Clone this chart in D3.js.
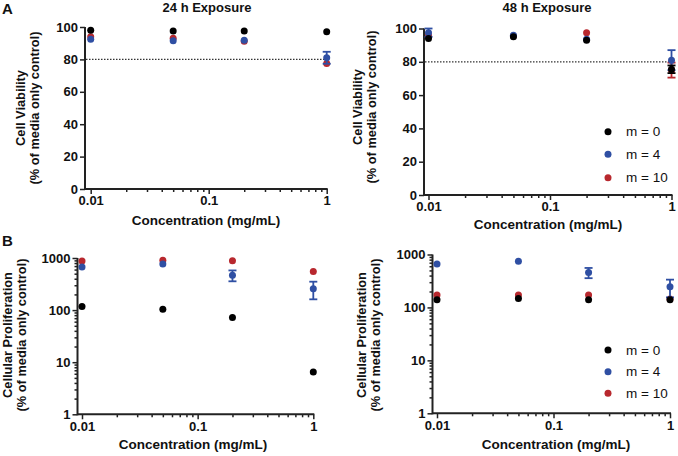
<!DOCTYPE html>
<html><head><meta charset="utf-8">
<script src="https://cdn.jsdelivr.net/npm/d3@7"></script>
<style>
body{margin:0;background:#fff;}
svg text{font-family:Arial,"Liberation Sans",sans-serif;}
</style></head>
<body><svg id="c" width="678" height="456"></svg>
<script>
// ---- data ----
const concentrations = [0.01, 0.05, 0.2, 1];
const seriesNames = ["m = 0", "m = 4", "m = 10"];
const seriesColors = ["#000000", "#2f4fa3", "#b8282e"];

const viab24_m0 = [98, 97.5, 97.5, 97];
const viab24_m4 = [92.5, 91.5, 91.8, 81];
const viab24_m10 = [94, 93, 91.2, 77.5];
const viab24_m0_err = [0.3, 0.3, 0.3, 0.3];
const viab24_m4_err = [0.5, 0.5, 0.5, 3.7];
const viab24_m10_err = [0.5, 0.5, 0.5, 0.5];

const viab48_m0 = [94, 95, 93, 75.5];
const viab48_m4 = [97.5, 96, 93.5, 81];
const viab48_m10 = [96, 95.5, 97.5, 75];
const viab48_m0_err = [0.5, 0.5, 0.5, 2.3];
const viab48_m4_err = [2.5, 0.5, 0.5, 6];
const viab48_m10_err = [1, 0.5, 0.5, 4.5];

const prolif24_m0 = [117, 104, 72, 6.5];
const prolif24_m4 = [674, 767, 467, 256];
const prolif24_m10 = [877, 903, 890, 548];
const prolif24_m0_err = [3, 3, 2, 0.2];
const prolif24_m4_err = [40, 40, 110, 95];
const prolif24_m10_err = [20, 20, 20, 20];

const prolif48_m0 = [140, 148, 140, 140];
const prolif48_m4 = [658, 748, 457, 245];
const prolif48_m10 = [171, 171, 171, 145];
const prolif48_m0_err = [4, 4, 4, 4];
const prolif48_m4_err = [30, 30, 100, 90];
const prolif48_m10_err = [5, 5, 5, 5];

const xTickValues = [0.01, 0.1, 1];
const xTickLabels = ["0.01", "0.1", "1"];
const viabTicks = [0, 20, 40, 60, 80, 100];
const prolifTicks = [1, 10, 100, 1000];
const thresholdLine = 80;

const xTitle = "Concentration (mg/mL)";
const viabTitle = ["Cell Viability", "(% of media only control)"];
const prolifTitle = ["Cellular Proliferation", "(% of media only control)"];

// ---- layout ----
const svg = d3.select("#c");
const panels = [
  {type:"viab", vals:[viab24_m0, viab24_m4, viab24_m10], errs:[viab24_m0_err, viab24_m4_err, viab24_m10_err],
   axisX:85, xr:[90.7, 326.7], yr:[189, 27], title:"24 h Exposure", titleX:207, titleY:12,
   xtY:225, xtX:206, ytX:[21, 35], ytY:108, legend:false, label:"A"},
  {type:"viab", vals:[viab48_m0, viab48_m4, viab48_m10], errs:[viab48_m0_err, viab48_m4_err, viab48_m10_err],
   axisX:424, xr:[428.5, 671.5], yr:[195, 28.5], title:"48 h Exposure", titleX:547, titleY:12,
   xtY:228.5, xtX:548, ytX:[358, 372], ytY:107, legend:true, legY:[131.7,154.3,177.7]},
  {type:"prolif", vals:[prolif24_m0, prolif24_m4, prolif24_m10], errs:[prolif24_m0_err, prolif24_m4_err, prolif24_m10_err],
   axisX:77.5, xr:[82, 313.3], yr:[414.3, 258], title:null,
   xtY:449, xtX:193, ytX:[8, 22], ytY:335, legend:false, label:"B"},
  {type:"prolif", vals:[prolif48_m0, prolif48_m4, prolif48_m10], errs:[prolif48_m0_err, prolif48_m4_err, prolif48_m10_err],
   axisX:432.5, xr:[437, 670], yr:[413.3, 254.5], title:null,
   xtY:449, xtX:556, ytX:[362, 376], ytY:335, legend:true, legY:[350,371.7,393.3]}
];

const minorX = [];
[0.01, 0.1].forEach(d => { for (let k = 2; k <= 9; k++) minorX.push(d * k); });

panels.forEach(p => {
  const g = svg.append("g");
  const x = d3.scaleLog().domain([0.01, 1]).range(p.xr);
  const y = p.type === "viab"
    ? d3.scaleLinear().domain([0, 100]).range(p.yr)
    : d3.scaleLog().domain([1, 1000]).range(p.yr);

  // x axis
  const xg = g.append("g").attr("transform", `translate(0,${p.yr[0]})`)
    .call(d3.axisBottom(x).tickValues(xTickValues.concat(minorX)).tickSize(3)
      .tickFormat(d => { const i = xTickValues.indexOf(d); return i >= 0 ? xTickLabels[i] : ""; }).tickPadding(3));
  xg.select(".domain").remove();
  xg.selectAll(".tick line").attr("stroke", "#222").attr("stroke-width", 1.5)
    .attr("y2", d => xTickValues.includes(d) ? 5 : 3);
  xg.selectAll(".tick text").attr("font-size", 13).attr("font-weight", "bold").attr("fill", "#111").attr("dy", "0.8em");
  g.append("line").attr("x1", p.axisX).attr("x2", p.xr[1] + 1).attr("y1", p.yr[0]).attr("y2", p.yr[0])
    .attr("stroke", "#222").attr("stroke-width", 2);

  // y axis
  let yAxis;
  if (p.type === "viab") {
    yAxis = d3.axisLeft(y).tickValues(viabTicks).tickSize(5).tickPadding(2).tickFormat(d3.format("d"));
  } else {
    const minorY = [];
    [1, 10, 100].forEach(d => { for (let k = 2; k <= 9; k++) minorY.push(d * k); });
    yAxis = d3.axisLeft(y).tickValues(prolifTicks.concat(minorY)).tickSize(5).tickPadding(2)
      .tickFormat(d => prolifTicks.includes(d) ? String(d) : "");
  }
  const yg = g.append("g").attr("transform", `translate(${p.axisX},0)`).call(yAxis);
  yg.select(".domain").remove();
  yg.selectAll(".tick line").attr("stroke", "#222").attr("stroke-width", 1.5);
  if (p.type === "prolif") yg.selectAll(".tick line").attr("x2", d => prolifTicks.includes(d) ? -5 : -3);
  yg.selectAll(".tick text").attr("font-size", 13).attr("font-weight", "bold").attr("fill", "#111");
  g.append("line").attr("x1", p.axisX).attr("x2", p.axisX).attr("y1", p.yr[0] + 1).attr("y2", p.yr[1])
    .attr("stroke", "#222").attr("stroke-width", 2);

  // threshold
  if (p.type === "viab") {
    g.append("line").attr("x1", p.axisX + 1).attr("x2", x(1)).attr("y1", y(thresholdLine)).attr("y2", y(thresholdLine))
      .attr("stroke", "#333").attr("stroke-width", 1.2).attr("stroke-dasharray", "1.5,1.5");
  }

  // points (draw m=10, m=4, m=0 so black is on top)
  [2, 1, 0].forEach(si => {
    const sg = g.append("g");
    const col = seriesColors[si];
    p.vals[si].forEach((v, i) => {
      const e = p.errs[si][i];
      const cx = x(concentrations[i]);
      const y1 = y(v + e), y2 = y(Math.max(v - e, 1e-3));
      if (Math.abs(y2 - y1) > 6) {
        sg.append("line").attr("x1", cx).attr("x2", cx).attr("y1", y1).attr("y2", y2).attr("stroke", col).attr("stroke-width", 1.8);
        [y1, y2].forEach(yy => sg.append("line").attr("x1", cx - 4).attr("x2", cx + 4).attr("y1", yy).attr("y2", yy)
          .attr("stroke", col).attr("stroke-width", 1.8));
      }
      sg.append("circle").attr("cx", cx).attr("cy", y(v)).attr("r", 3.5).attr("fill", col);
    });
  });

  // titles
  if (p.title) g.append("text").attr("x", p.titleX).attr("y", p.titleY).attr("text-anchor", "middle")
    .attr("font-size", 13).attr("font-weight", "bold").attr("fill", "#111").text(p.title);
  g.append("text").attr("x", p.xtX).attr("y", p.xtY).attr("text-anchor", "middle")
    .attr("font-size", 13.5).attr("font-weight", "bold").attr("fill", "#111").text(xTitle);
  const yt = p.type === "viab" ? viabTitle : prolifTitle;
  yt.forEach((t, i) => g.append("text")
    .attr("transform", `translate(${p.ytX[i] + 4},${p.ytY}) rotate(-90)`)
    .attr("text-anchor", "middle").attr("font-size", 12.8).attr("font-weight", "bold").attr("fill", "#111").text(t));

  if (p.legend) {
    seriesNames.forEach((n, i) => {
      g.append("circle").attr("cx", 608).attr("cy", p.legY[i]).attr("r", 3.5).attr("fill", seriesColors[i]);
      g.append("text").attr("x", 626).attr("y", p.legY[i]).attr("dy", "0.35em").attr("font-size", 13.5)
        .attr("fill", "#111").text(n);
    });
  }
  if (p.label) svg.append("text").attr("x", 2).attr("y", p.type === "viab" ? 14 : 246)
    .attr("font-size", 15).attr("font-weight", "bold").attr("fill", "#111").text(p.label);
});
</script></body></html>
